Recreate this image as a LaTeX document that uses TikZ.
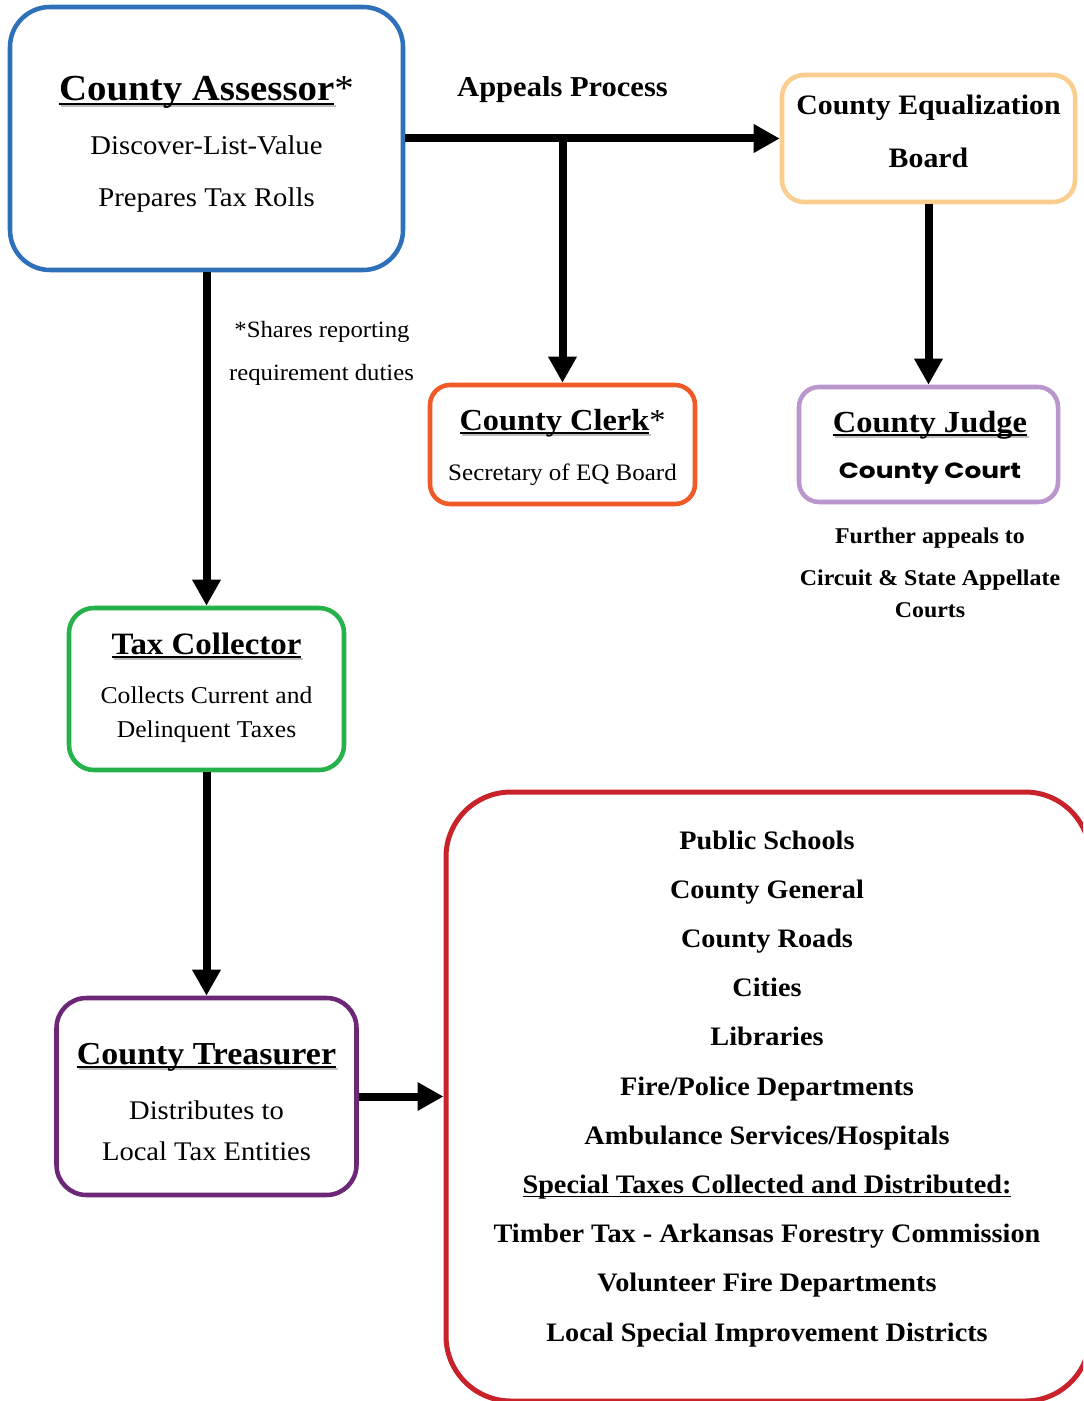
\documentclass[tikz,border=0pt]{standalone}
\usepackage{fontspec}
\usetikzlibrary{arrows.meta}
\newfontfamily\cam[FakeStretch=1.06]{Liberation Serif}
\newfontfamily\gothic[FakeStretch=1.2]{Poppins}
\definecolor{cblue}{RGB}{46,113,186}
\definecolor{cpeach}{RGB}{250,206,143}
\definecolor{corange}{RGB}{240,90,40}
\definecolor{clav}{RGB}{186,150,204}
\definecolor{cgreen}{RGB}{38,178,74}
\definecolor{cpurple}{RGB}{108,40,118}
\definecolor{cred}{RGB}{200,34,42}
\newcommand\fz[1]{\fontsize{#1pt}{#1pt}\selectfont}
\newcommand\ulx[2][1.6pt]{\setbox0\hbox{#2}\rlap{\rule[-3pt]{\wd0}{#1}}\box0}
\newcommand\shd[1]{\setbox2\hbox{#1}\rlap{\kern1.5pt\color{black!25}\rule[-4.8pt]{\wd2}{1.8pt}}\ulx{#1}}
\tikzset{
  box/.style={draw, line width=3.4pt, fill=white, inner sep=0pt},
  txt/.style={anchor=base, inner sep=0pt, font=\cam},
  arr/.style={line width=6pt, -{Triangle[length=19.5pt,width=20.25pt]}}
}
\begin{document}
\begin{tikzpicture}[x=0.75pt,y=-0.75pt]
\useasboundingbox (0,0) rectangle (1083,1401);
\clip (0,0) rectangle (1083,1401);
\fill[white] (0,0) rectangle (1083,1401);
% boxes
\node[box, draw=cblue, rounded corners=30pt, minimum width=294.75pt, minimum height=197.25pt] (assessor) at (206.5,138.5) {};
\node[box, draw=cpeach, rounded corners=16.5pt, minimum width=219.75pt, minimum height=95.25pt] (eq) at (928.5,138.5) {};
\node[box, draw=corange, rounded corners=15pt, minimum width=198.75pt, minimum height=89.25pt] (clerk) at (562.5,444.5) {};
\node[box, draw=clav, rounded corners=15pt, minimum width=194.25pt, minimum height=86.25pt] (judge) at (928.5,444.5) {};
\node[box, draw=cgreen, rounded corners=18.75pt, minimum width=206.25pt, minimum height=121.5pt] (collector) at (206.5,689) {};
\node[box, draw=cpurple, rounded corners=22.5pt, minimum width=225pt, minimum height=147.75pt] (treasurer) at (206.5,1096.5) {};
\node[box, draw=cred, line width=3.75pt, rounded corners=48.75pt, minimum width=483pt, minimum height=456.75pt] (red) at (768,1096.5) {};
% arrows
\draw[arr] (assessor.east) -- (eq.west);
\coordinate (br) at (clerk.north |- assessor.east);
\draw[arr] (br) -- (clerk.north);
\draw[arr] (eq.south) -- (judge.north);
\draw[arr] (assessor.south) -- (collector.north);
\draw[arr] (collector.south) -- (treasurer.north);
\draw[arr] (treasurer.east) -- (red.west);
% texts
\node[txt] (a1) at (206.5,101) {\fz{27.5}\bfseries\shd{County Assessor}\mdseries*};
\node[txt] (a2) at (206.5,155) {\fz{20.3}Discover-List-Value};
\node[txt] (a3) at (206.5,207) {\fz{20.3}Prepares Tax Rolls};
\node[txt] (ap) at (562.5,97) {\fz{21.6}\bfseries Appeals Process};
\node[txt] (e1) at (928.5,115) {\fz{21.1}\bfseries County Equalization};
\node[txt] (e2) at (928.5,168) {\fz{21.1}\bfseries Board};
\node[txt] (c1) at (562.5,430) {\fz{22.9}\bfseries\shd{County Clerk}\mdseries*};
\node[txt] (c2) at (562.5,480) {\fz{17.7}Secretary of EQ Board};
\node[txt] (j1) at (930,432) {\fz{23}\bfseries\shd{County Judge}};
\node[txt, font=\gothic] (j2) at (930,478) {\fz{16.5}\bfseries County Court};
\node[txt] (f1) at (930,543) {\fz{16.9}\bfseries Further appeals to};
\node[txt] (f2) at (930,585) {\fz{16.9}\bfseries Circuit \& State Appellate};
\node[txt] (f3) at (930,617) {\fz{16.9}\bfseries Courts};
\node[txt] (s1) at (322,337) {\fz{17.5}*Shares reporting};
\node[txt] (s2) at (321.5,380) {\fz{17.5}requirement duties};
\node[txt] (t1) at (206.5,654) {\fz{23.3}\bfseries\shd{Tax Collector}};
\node[txt] (t2) at (206.5,703) {\fz{18.1}Collects Current and};
\node[txt] (t3) at (206.5,737) {\fz{18.1}Delinquent Taxes};
\node[txt] (u1) at (206.5,1064) {\fz{24}\bfseries\shd{County Treasurer}};
\node[txt] (u2) at (206.5,1119) {\fz{20.2}Distributes to};
\node[txt] (u3) at (206.5,1160) {\fz{20.2}Local Tax Entities};
\foreach \t [count=\i from 0] in {Public Schools, County General, County Roads, Cities, Libraries, Fire/Police Departments, Ambulance Services/Hospitals, {\ulx[1.4pt]{Special Taxes Collected and Distributed:}}, Timber Tax - Arkansas Forestry Commission, Volunteer Fire Departments, Local Special Improvement Districts}
  \node[txt] (r\i) at (767,{849+49.2*\i}) {\fz{20}\bfseries \t};
\end{tikzpicture}
\end{document}
